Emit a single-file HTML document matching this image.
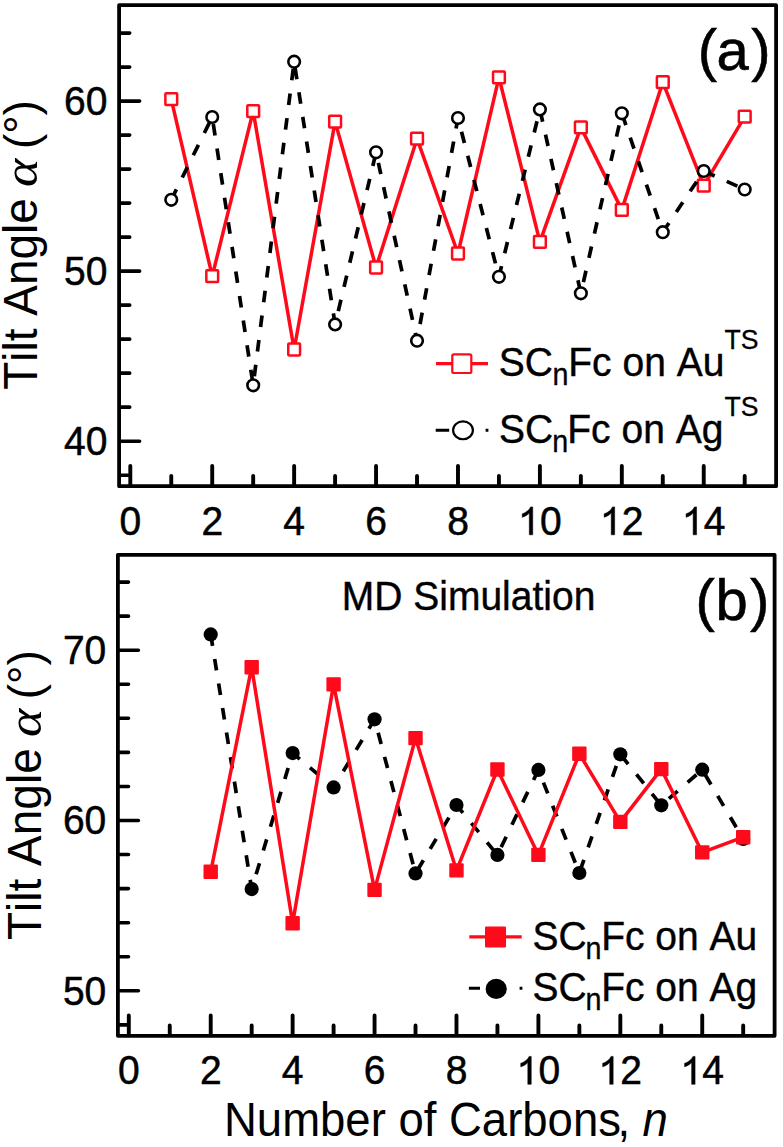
<!DOCTYPE html>
<html><head><meta charset="utf-8"><style>
html,body{margin:0;padding:0;background:#fff;}
svg{display:block;}
text{font-family:"Liberation Sans",sans-serif;fill:#000;font-kerning:none;font-feature-settings:"kern" 0;}
.t{font-size:39px;stroke:#000;stroke-width:0.5px;}
.lg{font-size:39px;stroke:#000;stroke-width:0.4px;}
.sub{font-size:28.7px;stroke:#000;stroke-width:0.3px;}
.sup{font-size:26.6px;stroke:#000;stroke-width:0.3px;}
.ax{font-size:45.5px;}
.pl{font-size:58px;stroke:#000;stroke-width:0.6px;}
.al{font-family:"Liberation Serif",serif;font-style:italic;font-size:48px;}
.yl{font-size:46px;}
</style></head><body>
<svg width="783" height="1147" viewBox="0 0 783 1147">
<rect width="783" height="1147" fill="#fff"/>
<rect x="119.1" y="5.2" width="657" height="481" fill="none" stroke="#000" stroke-width="3.8" stroke-linejoin="round"/>
<path d="M120 441.18H139.6M120 271.14H139.6M120 101.1H139.6M120 475.19H129.7M120 407.17H129.7M120 373.16H129.7M120 339.16H129.7M120 305.15H129.7M120 237.13H129.7M120 203.12H129.7M120 169.12H129.7M120 135.11H129.7M120 67.09H129.7M120 33.08H129.7" stroke="#000" stroke-width="3.6" stroke-linecap="round" fill="none"/>
<path d="M130.3 485.3V465.95M171.26 485.3V475.95M212.22 485.3V465.95M253.18 485.3V475.95M294.14 485.3V465.95M335.1 485.3V475.95M376.06 485.3V465.95M417.02 485.3V475.95M457.98 485.3V465.95M498.94 485.3V475.95M539.9 485.3V465.95M580.86 485.3V475.95M621.82 485.3V465.95M662.78 485.3V475.95M703.74 485.3V465.95M744.7 485.3V475.95" stroke="#000" stroke-width="3.9" stroke-linecap="round" fill="none"/>
<g transform="translate(119.46 534.8) scale(1 1.04)"><text x="0" y="0" class="t">0</text></g>
<g transform="translate(201.38 534.8) scale(1 1.04)"><text x="0" y="0" class="t">2</text></g>
<g transform="translate(283.3 534.8) scale(1 1.04)"><text x="0" y="0" class="t">4</text></g>
<g transform="translate(365.22 534.8) scale(1 1.04)"><text x="0" y="0" class="t">6</text></g>
<g transform="translate(447.14 534.8) scale(1 1.04)"><text x="0" y="0" class="t">8</text></g>
<g transform="translate(518.21 534.8) scale(1 1.04)"><text x="0" y="0" class="t"> 0</text><path transform="translate(0 0) scale(0.01904 -0.01904)" d="M583 0L763 0L763 1409L650 1409C622 1340 570 1275 500 1215C430 1155 330 1100 212 1058L212 882C300 910 380 948 450 992C510 1030 555 1068 583 1098Z" stroke="#000" stroke-width="26.3"/></g>
<g transform="translate(600.13 534.8) scale(1 1.04)"><text x="0" y="0" class="t"> 2</text><path transform="translate(0 0) scale(0.01904 -0.01904)" d="M583 0L763 0L763 1409L650 1409C622 1340 570 1275 500 1215C430 1155 330 1100 212 1058L212 882C300 910 380 948 450 992C510 1030 555 1068 583 1098Z" stroke="#000" stroke-width="26.3"/></g>
<g transform="translate(682.05 534.8) scale(1 1.04)"><text x="0" y="0" class="t"> 4</text><path transform="translate(0 0) scale(0.01904 -0.01904)" d="M583 0L763 0L763 1409L650 1409C622 1340 570 1275 500 1215C430 1155 330 1100 212 1058L212 882C300 910 380 948 450 992C510 1030 555 1068 583 1098Z" stroke="#000" stroke-width="26.3"/></g>
<g transform="translate(64.02 454.88) scale(1 1.04)"><text x="0" y="0" class="t">40</text></g>
<g transform="translate(64.02 284.84) scale(1 1.04)"><text x="0" y="0" class="t">50</text></g>
<g transform="translate(64.02 114.8) scale(1 1.04)"><text x="0" y="0" class="t">60</text></g>
<path d="M171.26 99.1L212.22 276.2L253.18 111.2L294.14 349.5L335.1 121.6L376.06 267.5L417.02 138.7L457.98 253.5L498.94 77.4L539.9 241.9L580.86 127.4L621.82 209.9L662.78 82.2L703.74 185.6L744.7 116.7" fill="none" stroke="#ff0a1a" stroke-width="3.5" stroke-linejoin="round"/>
<rect x="165.36" y="93.2" width="11.8" height="11.8" fill="#fff" stroke="#ff0a1a" stroke-width="2.5" rx="0.8"/>
<rect x="206.32" y="270.3" width="11.8" height="11.8" fill="#fff" stroke="#ff0a1a" stroke-width="2.5" rx="0.8"/>
<rect x="247.28" y="105.3" width="11.8" height="11.8" fill="#fff" stroke="#ff0a1a" stroke-width="2.5" rx="0.8"/>
<rect x="288.24" y="343.6" width="11.8" height="11.8" fill="#fff" stroke="#ff0a1a" stroke-width="2.5" rx="0.8"/>
<rect x="329.2" y="115.7" width="11.8" height="11.8" fill="#fff" stroke="#ff0a1a" stroke-width="2.5" rx="0.8"/>
<rect x="370.16" y="261.6" width="11.8" height="11.8" fill="#fff" stroke="#ff0a1a" stroke-width="2.5" rx="0.8"/>
<rect x="411.12" y="132.8" width="11.8" height="11.8" fill="#fff" stroke="#ff0a1a" stroke-width="2.5" rx="0.8"/>
<rect x="452.08" y="247.6" width="11.8" height="11.8" fill="#fff" stroke="#ff0a1a" stroke-width="2.5" rx="0.8"/>
<rect x="493.04" y="71.5" width="11.8" height="11.8" fill="#fff" stroke="#ff0a1a" stroke-width="2.5" rx="0.8"/>
<rect x="534" y="236" width="11.8" height="11.8" fill="#fff" stroke="#ff0a1a" stroke-width="2.5" rx="0.8"/>
<rect x="574.96" y="121.5" width="11.8" height="11.8" fill="#fff" stroke="#ff0a1a" stroke-width="2.5" rx="0.8"/>
<rect x="615.92" y="204" width="11.8" height="11.8" fill="#fff" stroke="#ff0a1a" stroke-width="2.5" rx="0.8"/>
<rect x="656.88" y="76.3" width="11.8" height="11.8" fill="#fff" stroke="#ff0a1a" stroke-width="2.5" rx="0.8"/>
<rect x="697.84" y="179.7" width="11.8" height="11.8" fill="#fff" stroke="#ff0a1a" stroke-width="2.5" rx="0.8"/>
<rect x="738.8" y="110.8" width="11.8" height="11.8" fill="#fff" stroke="#ff0a1a" stroke-width="2.5" rx="0.8"/>
<path d="M171.26 199.8L212.22 117L253.18 385.3L294.14 61.7L335.1 324.4L376.06 152.3L417.02 340.7L457.98 118L498.94 276.8L539.9 109.4L580.86 293.3L621.82 113.3L662.78 232.2L703.74 171L744.7 189.5" fill="none" stroke="#000" stroke-width="3.7" stroke-dasharray="11.6 13.26" stroke-dashoffset="0"/>
<circle cx="171.26" cy="199.8" r="5.8" fill="#fff" stroke="#000" stroke-width="2.6"/>
<circle cx="212.22" cy="117" r="5.8" fill="#fff" stroke="#000" stroke-width="2.6"/>
<circle cx="253.18" cy="385.3" r="5.8" fill="#fff" stroke="#000" stroke-width="2.6"/>
<circle cx="294.14" cy="61.7" r="5.8" fill="#fff" stroke="#000" stroke-width="2.6"/>
<circle cx="335.1" cy="324.4" r="5.8" fill="#fff" stroke="#000" stroke-width="2.6"/>
<circle cx="376.06" cy="152.3" r="5.8" fill="#fff" stroke="#000" stroke-width="2.6"/>
<circle cx="417.02" cy="340.7" r="5.8" fill="#fff" stroke="#000" stroke-width="2.6"/>
<circle cx="457.98" cy="118" r="5.8" fill="#fff" stroke="#000" stroke-width="2.6"/>
<circle cx="498.94" cy="276.8" r="5.8" fill="#fff" stroke="#000" stroke-width="2.6"/>
<circle cx="539.9" cy="109.4" r="5.8" fill="#fff" stroke="#000" stroke-width="2.6"/>
<circle cx="580.86" cy="293.3" r="5.8" fill="#fff" stroke="#000" stroke-width="2.6"/>
<circle cx="621.82" cy="113.3" r="5.8" fill="#fff" stroke="#000" stroke-width="2.6"/>
<circle cx="662.78" cy="232.2" r="5.8" fill="#fff" stroke="#000" stroke-width="2.6"/>
<circle cx="703.74" cy="171" r="5.8" fill="#fff" stroke="#000" stroke-width="2.6"/>
<circle cx="744.7" cy="189.5" r="5.8" fill="#fff" stroke="#000" stroke-width="2.6"/>
<rect x="117.9" y="554.8" width="656.7" height="481" fill="none" stroke="#000" stroke-width="3.8" stroke-linejoin="round"/>
<path d="M118.8 990.8H138.4M118.8 820.5H138.4M118.8 650.2H138.4M118.8 1024.86H128.5M118.8 956.74H128.5M118.8 922.68H128.5M118.8 888.62H128.5M118.8 854.56H128.5M118.8 786.44H128.5M118.8 752.38H128.5M118.8 718.32H128.5M118.8 684.26H128.5M118.8 616.14H128.5M118.8 582.08H128.5" stroke="#000" stroke-width="3.6" stroke-linecap="round" fill="none"/>
<path d="M128.8 1034.9V1015.55M169.76 1034.9V1025.55M210.72 1034.9V1015.55M251.68 1034.9V1025.55M292.64 1034.9V1015.55M333.6 1034.9V1025.55M374.56 1034.9V1015.55M415.52 1034.9V1025.55M456.48 1034.9V1015.55M497.44 1034.9V1025.55M538.4 1034.9V1015.55M579.36 1034.9V1025.55M620.32 1034.9V1015.55M661.28 1034.9V1025.55M702.24 1034.9V1015.55M743.2 1034.9V1025.55" stroke="#000" stroke-width="3.9" stroke-linecap="round" fill="none"/>
<g transform="translate(117.96 1084.3) scale(1 1.04)"><text x="0" y="0" class="t">0</text></g>
<g transform="translate(199.88 1084.3) scale(1 1.04)"><text x="0" y="0" class="t">2</text></g>
<g transform="translate(281.8 1084.3) scale(1 1.04)"><text x="0" y="0" class="t">4</text></g>
<g transform="translate(363.72 1084.3) scale(1 1.04)"><text x="0" y="0" class="t">6</text></g>
<g transform="translate(445.64 1084.3) scale(1 1.04)"><text x="0" y="0" class="t">8</text></g>
<g transform="translate(516.71 1084.3) scale(1 1.04)"><text x="0" y="0" class="t"> 0</text><path transform="translate(0 0) scale(0.01904 -0.01904)" d="M583 0L763 0L763 1409L650 1409C622 1340 570 1275 500 1215C430 1155 330 1100 212 1058L212 882C300 910 380 948 450 992C510 1030 555 1068 583 1098Z" stroke="#000" stroke-width="26.3"/></g>
<g transform="translate(598.63 1084.3) scale(1 1.04)"><text x="0" y="0" class="t"> 2</text><path transform="translate(0 0) scale(0.01904 -0.01904)" d="M583 0L763 0L763 1409L650 1409C622 1340 570 1275 500 1215C430 1155 330 1100 212 1058L212 882C300 910 380 948 450 992C510 1030 555 1068 583 1098Z" stroke="#000" stroke-width="26.3"/></g>
<g transform="translate(680.55 1084.3) scale(1 1.04)"><text x="0" y="0" class="t"> 4</text><path transform="translate(0 0) scale(0.01904 -0.01904)" d="M583 0L763 0L763 1409L650 1409C622 1340 570 1275 500 1215C430 1155 330 1100 212 1058L212 882C300 910 380 948 450 992C510 1030 555 1068 583 1098Z" stroke="#000" stroke-width="26.3"/></g>
<g transform="translate(62.92 1004.5) scale(1 1.04)"><text x="0" y="0" class="t">50</text></g>
<g transform="translate(62.92 834.2) scale(1 1.04)"><text x="0" y="0" class="t">60</text></g>
<g transform="translate(62.92 663.9) scale(1 1.04)"><text x="0" y="0" class="t">70</text></g>
<path d="M210.72 634.4L251.68 889.1L292.64 753.1L333.6 787.4L374.56 719.3L415.52 873.4L456.48 805L497.44 854.9L538.4 769.9L579.36 873L620.32 754.3L661.28 805.3L702.24 769.7L743.2 839" fill="none" stroke="#000" stroke-width="3.7" stroke-dasharray="11.6 13.26" stroke-dashoffset="0"/>
<circle cx="210.72" cy="634.4" r="7.1" fill="#000"/>
<circle cx="251.68" cy="889.1" r="7.1" fill="#000"/>
<circle cx="292.64" cy="753.1" r="7.1" fill="#000"/>
<circle cx="333.6" cy="787.4" r="7.1" fill="#000"/>
<circle cx="374.56" cy="719.3" r="7.1" fill="#000"/>
<circle cx="415.52" cy="873.4" r="7.1" fill="#000"/>
<circle cx="456.48" cy="805" r="7.1" fill="#000"/>
<circle cx="497.44" cy="854.9" r="7.1" fill="#000"/>
<circle cx="538.4" cy="769.9" r="7.1" fill="#000"/>
<circle cx="579.36" cy="873" r="7.1" fill="#000"/>
<circle cx="620.32" cy="754.3" r="7.1" fill="#000"/>
<circle cx="661.28" cy="805.3" r="7.1" fill="#000"/>
<circle cx="702.24" cy="769.7" r="7.1" fill="#000"/>
<circle cx="743.2" cy="839" r="7.1" fill="#000"/>
<path d="M210.72 871.8L251.68 667.2L292.64 923.2L333.6 684.4L374.56 889.9L415.52 738.1L456.48 870.4L497.44 769.5L538.4 854.9L579.36 753.8L620.32 821.9L661.28 769.1L702.24 852.4L743.2 837.2" fill="none" stroke="#ff0a1a" stroke-width="3.5" stroke-linejoin="round"/>
<rect x="203.52" y="864.6" width="14.4" height="14.4" fill="#ff0a1a" rx="1"/>
<rect x="244.48" y="660" width="14.4" height="14.4" fill="#ff0a1a" rx="1"/>
<rect x="285.44" y="916" width="14.4" height="14.4" fill="#ff0a1a" rx="1"/>
<rect x="326.4" y="677.2" width="14.4" height="14.4" fill="#ff0a1a" rx="1"/>
<rect x="367.36" y="882.7" width="14.4" height="14.4" fill="#ff0a1a" rx="1"/>
<rect x="408.32" y="730.9" width="14.4" height="14.4" fill="#ff0a1a" rx="1"/>
<rect x="449.28" y="863.2" width="14.4" height="14.4" fill="#ff0a1a" rx="1"/>
<rect x="490.24" y="762.3" width="14.4" height="14.4" fill="#ff0a1a" rx="1"/>
<rect x="531.2" y="847.7" width="14.4" height="14.4" fill="#ff0a1a" rx="1"/>
<rect x="572.16" y="746.6" width="14.4" height="14.4" fill="#ff0a1a" rx="1"/>
<rect x="613.12" y="814.7" width="14.4" height="14.4" fill="#ff0a1a" rx="1"/>
<rect x="654.08" y="761.9" width="14.4" height="14.4" fill="#ff0a1a" rx="1"/>
<rect x="695.04" y="845.2" width="14.4" height="14.4" fill="#ff0a1a" rx="1"/>
<rect x="736" y="830" width="14.4" height="14.4" fill="#ff0a1a" rx="1"/>
<path d="M436 363.7H488" stroke="#ff0a1a" stroke-width="3.2"/>
<rect x="452.3" y="354.4" width="19" height="18.6" fill="#fff" stroke="#ff0a1a" stroke-width="2.2" rx="1.6"/>
<text transform="translate(498.7 376) scale(1 1.025)" class="lg">SC</text>
<text transform="translate(552.4 385) scale(1 1.08)" class="sub">n</text>
<text transform="translate(568.3 376) scale(1 1.025)" class="lg">Fc on Au</text>
<text transform="translate(724.5 349.2) scale(1 1.04)" class="sup">TS</text>
<path d="M435.7 430.3H449.2M485.6 430.3H488.4" stroke="#000" stroke-width="3"/>
<ellipse cx="463" cy="430.3" rx="9.9" ry="8.95" fill="#fff" stroke="#000" stroke-width="2.2"/>
<text transform="translate(498.9 442.5) scale(1 1.025)" class="lg">SC</text>
<text transform="translate(552.2 451.7) scale(1 1.08)" class="sub">n</text>
<text transform="translate(567.3 442.5) scale(1 1.025)" class="lg">Fc on Ag</text>
<text transform="translate(724.5 415.5) scale(1 1.04)" class="sup">TS</text>
<path d="M469.3 936.8H521.7" stroke="#ff0a1a" stroke-width="3.2"/>
<rect x="485" y="926.4" width="21" height="21" fill="#ff0a1a" rx="1"/>
<text transform="translate(532.5 949.5) scale(1 1.025)" class="lg">SC</text>
<text transform="translate(585.6 958.6) scale(1 1.08)" class="sub">n</text>
<text transform="translate(601.2 949.5) scale(1 1.025)" class="lg">Fc on Au</text>
<path d="M468.9 988.3H480M519.6 988.3H522.4" stroke="#000" stroke-width="3"/>
<ellipse cx="496.2" cy="988.9" rx="10.6" ry="10.1" fill="#000"/>
<text transform="translate(532.5 1001.2) scale(1 1.025)" class="lg">SC</text>
<text transform="translate(585.6 1010) scale(1 1.08)" class="sub">n</text>
<text transform="translate(601.2 1001.2) scale(1 1.025)" class="lg">Fc on Ag</text>
<text transform="translate(697.75 70) scale(1 1.0)" class="pl">(<tspan dx="-0.6">a</tspan><tspan dx="2.5">)</tspan></text>
<text transform="translate(695.6 620) scale(1 1.0)" class="pl">(<tspan dx="0.6">b</tspan><tspan dx="2.3">)</tspan></text>
<text transform="translate(341.8 609.5) scale(1 1.025)" class="lg">MD Simulation</text>
<g transform="translate(36.6 389.8) rotate(-90)"><text transform="scale(1 1.03)" class="ax yl">Tilt Angle </text><text transform="translate(202.9 0) scale(1.12 1.03)" class="al">α</text><text transform="translate(240.7 0)" class="ax yl">(°)</text></g>
<g transform="translate(41.4 940.0) rotate(-90)"><text transform="scale(1 1.03)" class="ax yl">Tilt Angle </text><text transform="translate(202.9 0) scale(1.12 1.03)" class="al">α</text><text transform="translate(240.7 0)" class="ax yl">(°)</text></g>
<text transform="translate(224 1135.5) scale(1 1.04)" class="ax">Number of Carbons<tspan dx="-3.5">,</tspan> <tspan dx="-0.3" font-style="italic">n</tspan></text>
</svg>
</body></html>
